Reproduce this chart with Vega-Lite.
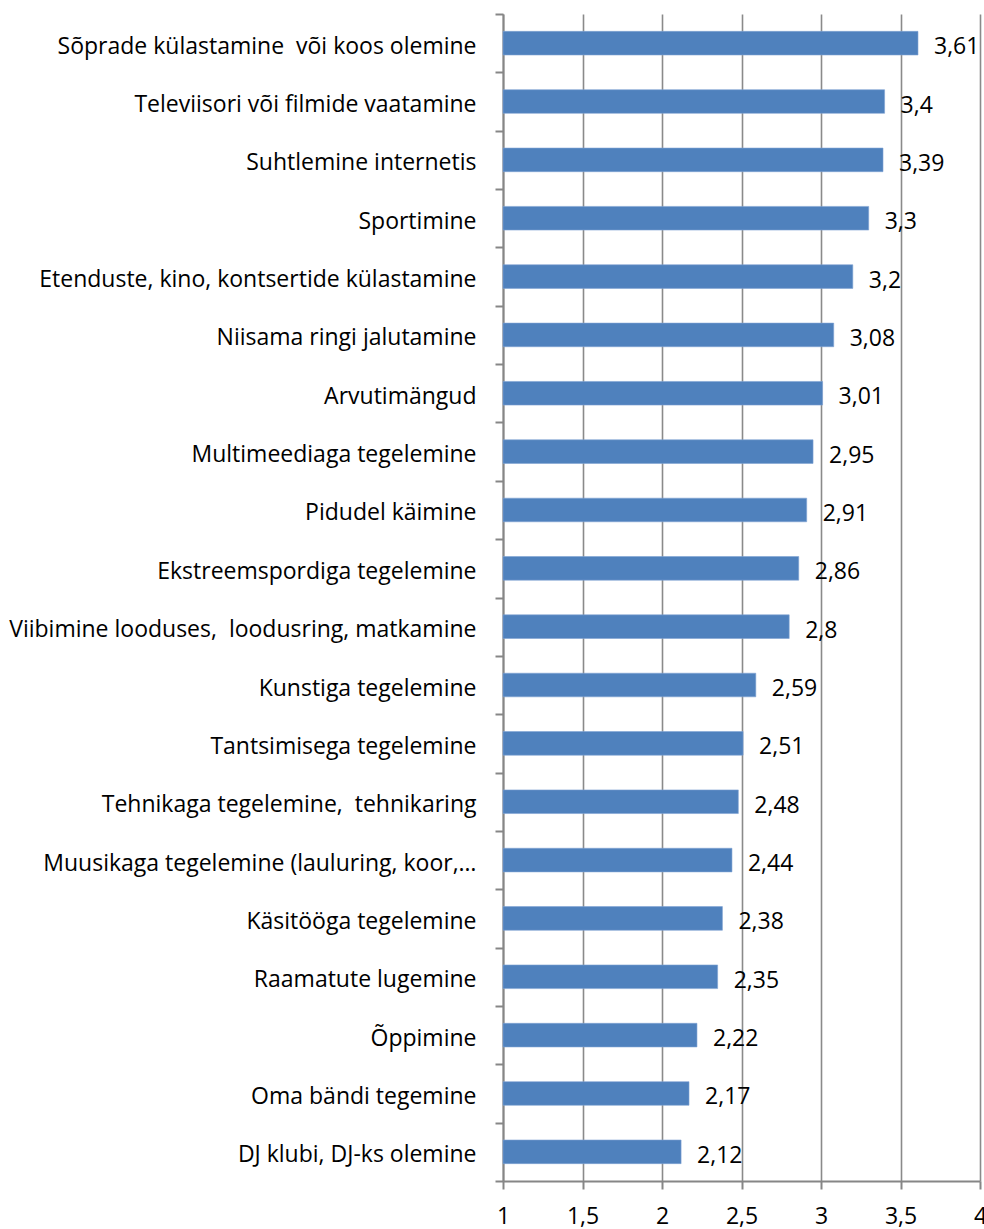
{
  "$schema": "https://vega.github.io/schema/vega-lite/v6.json",
  "width": 477,
  "height": 1167,
  "autosize": {"type": "none"},
  "padding": {"left": 503, "top": 14, "right": 4, "bottom": 48},
  "background": "white",
  "config": {
    "view": {"stroke": null},
    "font": "Open Sans",
    "locale": {"number": {"decimal": ",", "thousands": " ", "grouping": [3], "currency": ["", " €"]}}
  },
  "data": {"values": [
    {"activity": "Sõprade külastamine\u00a0 või koos olemine", "value": 3.61},
    {"activity": "Televiisori või filmide vaatamine", "value": 3.4},
    {"activity": "Suhtlemine internetis", "value": 3.39},
    {"activity": "Sportimine", "value": 3.3},
    {"activity": "Etenduste, kino, kontsertide külastamine", "value": 3.2},
    {"activity": "Niisama ringi jalutamine", "value": 3.08},
    {"activity": "Arvutimängud", "value": 3.01},
    {"activity": "Multimeediaga tegelemine", "value": 2.95},
    {"activity": "Pidudel käimine", "value": 2.91},
    {"activity": "Ekstreemspordiga tegelemine", "value": 2.86},
    {"activity": "Viibimine looduses,\u00a0 loodusring, matkamine", "value": 2.8},
    {"activity": "Kunstiga tegelemine", "value": 2.59},
    {"activity": "Tantsimisega tegelemine", "value": 2.51},
    {"activity": "Tehnikaga tegelemine,\u00a0 tehnikaring", "value": 2.48},
    {"activity": "Muusikaga tegelemine (lauluring, koor,…", "value": 2.44},
    {"activity": "Käsitööga tegelemine", "value": 2.38},
    {"activity": "Raamatute lugemine", "value": 2.35},
    {"activity": "Õppimine", "value": 2.22},
    {"activity": "Oma bändi tegemine", "value": 2.17},
    {"activity": "DJ klubi, DJ-ks olemine", "value": 2.12}
  ]},
  "encoding": {
    "y": {
      "field": "activity", "type": "nominal", "sort": null,
      "scale": {"paddingInner": 0, "paddingOuter": 0},
      "axis": {
        "title": null, "grid": false,
        "domainColor": "#868686", "domainWidth": 2,
        "tickColor": "#868686", "tickWidth": 2, "tickSize": 8, "tickBand": "extent",
        "labelFontSize": 23, "labelColor": "black",
        "labelBaseline": "alphabetic", "labelOffset": 10,
        "labelPadding": 19,
        "labelLimit": 700
      }
    }
  },
  "layer": [
    {
      "mark": {"type": "bar", "color": "#4F81BD", "stroke": "#7fa3d3", "strokeWidth": 0.6, "height": {"band": 0.405}},
      "encoding": {
        "x": {
          "field": "value", "type": "quantitative",
          "scale": {"domain": [1, 4], "zero": false, "nice": false},
          "axis": {
            "title": null, "values": [1, 1.5, 2, 2.5, 3, 3.5, 4], "format": "~g",
            "grid": true, "gridColor": "#8a8a8a", "gridWidth": 1.6,
            "domainColor": "#868686", "domainWidth": 2,
            "tickColor": "#868686", "tickWidth": 2, "tickSize": 8,
            "labelFontSize": 23, "labelColor": "black", "labelBaseline": "alphabetic",
            "labelPadding": 34, "labelFlush": false
          }
        },
        "x2": {"datum": 1}
      }
    },
    {
      "mark": {"type": "text", "align": "left", "baseline": "alphabetic", "dx": 16, "dy": 11, "fontSize": 23, "color": "black"},
      "encoding": {
        "x": {"field": "value", "type": "quantitative"},
        "text": {"field": "value", "type": "quantitative", "format": "~g"}
      }
    }
  ]
}
